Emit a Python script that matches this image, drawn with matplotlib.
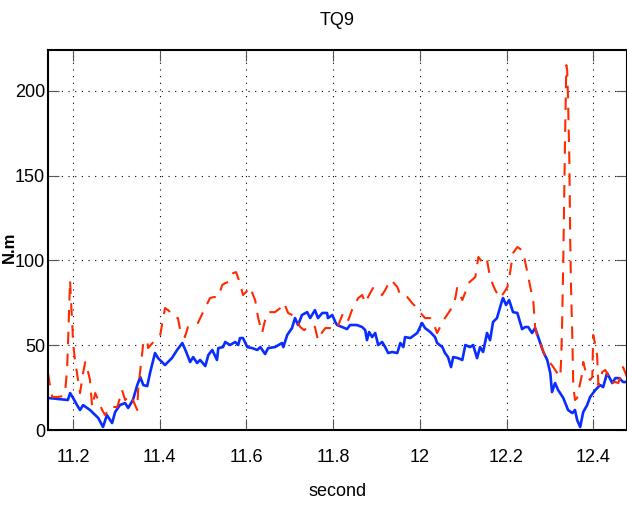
import matplotlib.pyplot as plt

# TQ9 torque traces
t_blue = [11.142, 11.188, 11.193, 11.200, 11.209, 11.216, 11.223, 11.239, 11.251, 11.258,
          11.269, 11.278, 11.290, 11.297, 11.308, 11.320, 11.327, 11.338, 11.348, 11.355,
          11.362, 11.371, 11.378, 11.389, 11.396, 11.405, 11.412, 11.419, 11.428, 11.440,
          11.452, 11.461, 11.470, 11.477, 11.486, 11.493, 11.505, 11.512, 11.521, 11.532,
          11.535, 11.546, 11.551, 11.562, 11.574, 11.581, 11.585, 11.592, 11.602, 11.613,
          11.625, 11.632, 11.643, 11.650, 11.666, 11.682, 11.685, 11.694, 11.705, 11.712,
          11.719, 11.728, 11.740, 11.747, 11.758, 11.765, 11.775, 11.786, 11.788, 11.798,
          11.805, 11.809, 11.821, 11.832, 11.839, 11.855, 11.867, 11.874, 11.878, 11.883,
          11.890, 11.897, 11.904, 11.913, 11.920, 11.927, 11.936, 11.948, 11.955, 11.962,
          11.966, 11.978, 11.994, 12.005, 12.012, 12.024, 12.035, 12.040, 12.052, 12.058,
          12.065, 12.072, 12.077, 12.088, 12.098, 12.105, 12.116, 12.123, 12.132, 12.139,
          12.146, 12.155, 12.162, 12.169, 12.178, 12.190, 12.192, 12.199, 12.206, 12.215,
          12.225, 12.236, 12.243, 12.250, 12.259, 12.266, 12.278, 12.285, 12.294, 12.301,
          12.305, 12.312, 12.319, 12.331, 12.342, 12.352, 12.358, 12.363, 12.370, 12.377,
          12.386, 12.393, 12.405, 12.416, 12.423, 12.432, 12.444, 12.451, 12.460, 12.469,
          12.478]
v_blue = [18.9, 17.7, 21.8, 18.9, 14.7, 11.8, 14.7, 11.8, 8.8, 7.1,
          1.8, 8.8, 4.1, 10.6, 14.7, 15.9, 13.0, 17.7, 26.5, 31.2,
          26.5, 25.9, 34.2, 45.4, 42.4, 40.1, 38.3, 40.1, 42.4, 47.2,
          51.3, 46.0, 40.1, 43.0, 39.5, 41.3, 37.7, 44.2, 47.2, 41.3,
          48.3, 48.9, 51.9, 50.1, 51.9, 50.1, 54.2, 54.2, 48.9, 48.3,
          47.2, 48.9, 44.8, 48.3, 48.9, 51.3, 48.9, 56.0, 60.1, 66.0,
          61.9, 67.8, 69.5, 66.0, 70.7, 66.0, 69.0, 69.0, 66.0, 67.8,
          63.7, 61.9, 60.7, 59.5, 61.9, 61.9, 60.7, 58.9, 53.0, 57.8,
          54.8, 57.2, 50.1, 51.9, 48.9, 45.4, 46.0, 45.4, 51.3, 48.9,
          54.8, 54.2, 57.2, 63.1, 60.1, 57.8, 54.8, 51.3, 48.9, 45.4,
          43.0, 37.1, 43.0, 42.4, 41.3, 50.1, 48.9, 50.1, 42.4, 48.9,
          46.0, 57.2, 53.0, 63.7, 66.0, 76.6, 77.8, 73.7, 76.6, 69.5,
          69.0, 59.5, 60.7, 60.7, 57.2, 60.1, 51.3, 46.0, 41.3, 33.6,
          22.4, 27.7, 23.6, 18.9, 11.8, 10.0, 11.8, 5.9, 1.8, 10.6,
          14.7, 19.5, 23.6, 26.5, 25.3, 33.6, 27.7, 30.6, 30.6, 28.3,
          28.3]

t_red = [11.142, 11.147, 11.152, 11.165, 11.177, 11.182, 11.186, 11.188, 11.191, 11.193,
         11.195, 11.198, 11.200, 11.205, 11.209, 11.212, 11.216, 11.223, 11.228, 11.232,
         11.239, 11.244, 11.251, 11.258, 11.267, 11.274, 11.285, 11.302, 11.308, 11.313,
         11.320, 11.332, 11.338, 11.348, 11.350, 11.355, 11.362, 11.371, 11.373, 11.389,
         11.401, 11.412, 11.419, 11.424, 11.431, 11.442, 11.447, 11.452, 11.458, 11.465,
         11.477, 11.488, 11.502, 11.516, 11.525, 11.535, 11.544, 11.551, 11.558, 11.569,
         11.576, 11.585, 11.592, 11.599, 11.608, 11.620, 11.627, 11.636, 11.643, 11.650,
         11.666, 11.678, 11.687, 11.696, 11.705, 11.712, 11.724, 11.733, 11.742, 11.752,
         11.758, 11.765, 11.775, 11.782, 11.793, 11.802, 11.812, 11.823, 11.828, 11.835,
         11.846, 11.858, 11.867, 11.874, 11.883, 11.892, 11.904, 11.913, 11.920, 11.932,
         11.938, 11.948, 11.955, 11.964, 11.971, 11.982, 11.989, 11.996, 12.012, 12.024,
         12.031, 12.040, 12.049, 12.058, 12.075, 12.082, 12.086, 12.098, 12.105, 12.112,
         12.128, 12.135, 12.144, 12.151, 12.155, 12.162, 12.169, 12.174, 12.185, 12.195,
         12.202, 12.208, 12.215, 12.225, 12.232, 12.238, 12.248, 12.255, 12.262, 12.266,
         12.273, 12.280, 12.285, 12.294, 12.301, 12.308, 12.317, 12.324, 12.326, 12.328,
         12.331, 12.335, 12.338, 12.340, 12.342, 12.345, 12.347, 12.349, 12.352, 12.354,
         12.358, 12.363, 12.365, 12.375, 12.377, 12.386, 12.393, 12.398, 12.400, 12.405,
         12.409, 12.412, 12.421, 12.428, 12.432, 12.439, 12.451, 12.458, 12.462, 12.469,
         12.478]
v_red = [33.6, 25.3, 19.5, 19.5, 20.0, 23.6, 35.4, 48.9, 72.5, 88.4,
         76.6, 63.1, 51.3, 39.5, 33.6, 28.3, 21.8, 33.6, 40.1, 37.1,
         29.5, 13.6, 21.8, 17.7, 11.8, 8.8, 13.6, 13.6, 18.9, 23.6,
         17.7, 20.6, 17.7, 11.8, 23.6, 35.4, 51.3, 53.0, 48.3, 53.0,
         56.0, 71.9, 70.7, 69.5, 66.6, 66.0, 58.9, 58.9, 54.8, 60.7,
         61.9, 63.1, 70.7, 77.8, 78.4, 78.4, 85.5, 86.6, 87.2, 92.5,
         93.1, 86.6, 79.6, 81.3, 84.3, 76.6, 66.0, 57.2, 64.8, 69.5,
         69.5, 71.9, 74.9, 69.0, 67.8, 66.6, 60.7, 58.9, 60.7, 61.9,
         60.7, 53.0, 57.8, 60.1, 60.1, 58.9, 61.9, 69.0, 67.8, 64.8,
         72.5, 77.8, 79.6, 74.9, 79.6, 83.7, 80.7, 79.6, 82.5, 88.4,
         87.2, 84.3, 79.6, 79.6, 78.4, 74.9, 73.1, 70.7, 66.0, 66.0,
         63.1, 57.2, 61.9, 66.0, 72.5, 77.8, 83.7, 76.6, 81.3, 86.6,
         90.2, 102.0, 99.0, 101.4, 100.2, 90.2, 85.5, 82.5, 77.8, 81.3,
         84.3, 92.5, 104.3, 107.9, 106.7, 104.9, 93.1, 84.3, 75.4, 60.7,
         53.0, 50.1, 46.0, 41.3, 39.5, 37.1, 33.6, 31.2, 41.3, 58.9,
         100.2, 170.9, 215.1, 212.2, 194.5, 159.1, 112.0, 82.5, 53.0, 26.5,
         17.7, 18.9, 21.8, 33.6, 40.1, 31.2, 29.5, 31.2, 56.0, 50.1,
         44.2, 26.5, 34.2, 35.4, 33.6, 27.7, 28.3, 27.7, 30.6, 37.1,
         31.2]

x_ticks = [11.2, 11.4, 11.6, 11.8, 12.0, 12.2, 12.4]
x_tick_labels = ["11.2", "11.4", "11.6", "11.8", "12", "12.2", "12.4"]
y_ticks = [0, 50, 100, 150, 200]

plt.rcParams["font.family"] = ["Liberation Sans Narrow", "Liberation Sans", "DejaVu Sans"]

fig = plt.figure(figsize=(6.27, 5.08), dpi=100)
ax = fig.add_axes([0.0765, 0.1535, 0.9235, 0.748])

ax.plot(t_blue, v_blue, color="#0a2dff", linewidth=1.9)
ax.plot(t_red, v_red, color="#ff2a00", linewidth=1.5, dashes=(6, 4.5))

ax.set_xlim(11.142, 12.478)
ax.set_ylim(0, 224)
ax.set_xticks(x_ticks)
ax.set_xticklabels(x_tick_labels)
ax.set_yticks(y_ticks)
ax.grid(True, color="k", linestyle=(0, (1, 5)), linewidth=0.8)

ax.tick_params(direction="in", length=8, width=0.8, color="#555555",
               top=True, right=True, labelsize=13)
ax.tick_params(axis="x", pad=14)
ax.tick_params(axis="y", pad=2)
for s in ax.spines.values():
    s.set_linewidth(1.5)

ax.set_title("TQ9", fontsize=13, pad=18)
ax.set_xlabel("second", fontsize=13, labelpad=12)
ax.set_ylabel("N.m", fontsize=12, fontweight="bold")
ax.yaxis.set_label_coords(-0.053, 0.48)

fig.savefig("out.png", dpi=100)
